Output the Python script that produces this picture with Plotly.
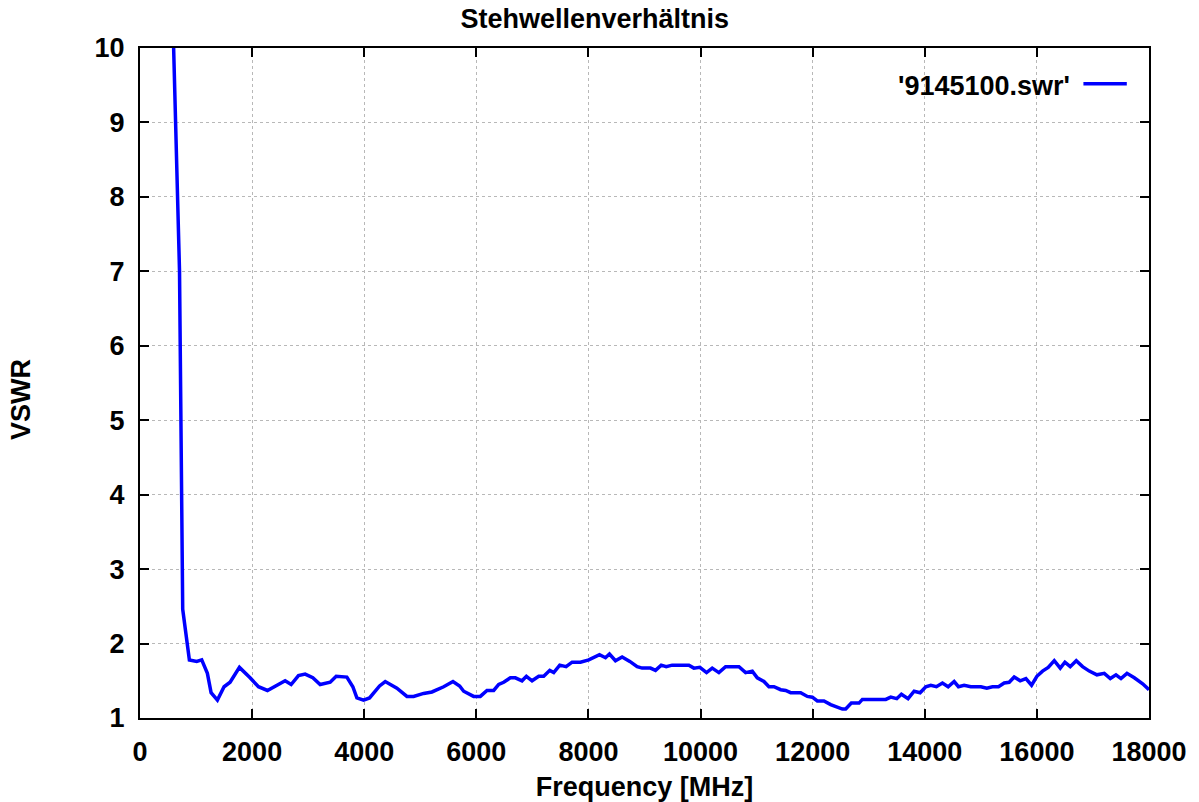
import plotly.graph_objects as go

freq_mhz = [
    600, 705, 762, 881, 1012, 1101, 1202, 1268, 1381, 1500, 1607, 1774, 1964,
    2113, 2274, 2411, 2589, 2696, 2827, 2946, 3083, 3214, 3393, 3500, 3690,
    3797, 3869, 3988, 4095, 4274, 4375, 4583, 4762, 4881, 5060, 5208, 5417,
    5583, 5702, 5774, 5952, 6071, 6190, 6310, 6399, 6488, 6607, 6696, 6815,
    6893, 6994, 7113, 7202, 7310, 7381, 7488, 7601, 7708, 7857, 8006, 8095,
    8197, 8304, 8375, 8482, 8601, 8738, 8869, 8958, 9107, 9196, 9298, 9387,
    9494, 9792, 9881, 9988, 10107, 10208, 10327, 10446, 10685, 10804, 10923,
    11012, 11131, 11220, 11310, 11429, 11518, 11607, 11786, 11905, 11994,
    12083, 12202, 12321, 12440, 12530, 12589, 12690, 12827, 12887, 13304,
    13393, 13500, 13583, 13702, 13810, 13917, 14018, 14107, 14208, 14315,
    14417, 14524, 14601, 14702, 14821, 15000, 15107, 15208, 15315, 15417,
    15506, 15595, 15702, 15804, 15905, 16000, 16101, 16202, 16310, 16417,
    16500, 16595, 16702, 16815, 16935, 17071, 17202, 17310, 17411, 17500,
    17607, 17738, 17887, 18000,
]
vswr = [
    10.0, 7.0, 2.46, 1.78, 1.76, 1.78, 1.60, 1.34, 1.24, 1.42, 1.48, 1.68, 1.54,
    1.42, 1.37, 1.43, 1.50, 1.45, 1.57, 1.59, 1.54, 1.45, 1.48, 1.56, 1.55,
    1.42, 1.27, 1.24, 1.27, 1.43, 1.49, 1.40, 1.29, 1.29, 1.33, 1.35, 1.42,
    1.49, 1.43, 1.36, 1.29, 1.29, 1.37, 1.37, 1.45, 1.48, 1.54, 1.54, 1.50,
    1.56, 1.50, 1.56, 1.56, 1.64, 1.61, 1.71, 1.69, 1.75, 1.75, 1.78, 1.81,
    1.85, 1.81, 1.86, 1.77, 1.82, 1.76, 1.69, 1.67, 1.67, 1.64, 1.71, 1.69,
    1.71, 1.71, 1.67, 1.68, 1.61, 1.67, 1.61, 1.69, 1.69, 1.61, 1.63,
    1.54, 1.49, 1.42, 1.42, 1.38, 1.37, 1.34, 1.34, 1.29, 1.28,
    1.23, 1.23, 1.18, 1.15, 1.12, 1.12, 1.20, 1.20, 1.25, 1.25,
    1.28, 1.26, 1.32, 1.26, 1.36, 1.34, 1.42, 1.44, 1.42, 1.47,
    1.42, 1.49, 1.42, 1.44, 1.42, 1.42, 1.40, 1.42, 1.42, 1.47,
    1.48, 1.55, 1.50, 1.53, 1.44, 1.56, 1.63, 1.68, 1.77, 1.67,
    1.75, 1.69, 1.77, 1.69, 1.63, 1.58, 1.60, 1.53, 1.58, 1.53,
    1.60, 1.54, 1.46, 1.38,
]
trace_name = "'9145100.swr'"

FONT = "Liberation Sans, Arial, sans-serif"
FS = 27

def bold_font(size=FS):
    return dict(family=FONT, size=size, color='black', weight='bold')

fig = go.Figure()
fig.add_trace(go.Scatter(x=freq_mhz, y=vswr, mode='lines', name=trace_name,
                         line=dict(color='#0000ff', width=3.5), showlegend=False))

axis_style = dict(
    showline=True, linecolor='black', linewidth=2, mirror='ticks',
    ticks='inside', ticklen=9, tickwidth=2, tickcolor='black',
    showgrid=True, gridcolor='#b8b8b8', griddash='dot', gridwidth=1,
    zeroline=False, tickfont=bold_font(), automargin=False,
)
fig.update_xaxes(range=[0, 18000], dtick=2000, tickformat='d', ticklabelstandoff=9,
                 title=dict(text='Frequency [MHz]', standoff=18, font=bold_font()),
                 **axis_style)
fig.update_yaxes(range=[1, 10], dtick=1, ticklabelstandoff=8, **axis_style)

# Legende im gnuplot-Stil: Text links, Linie rechts
fig.add_annotation(text=trace_name, xref='paper', yref='paper', x=0.924, y=0.944,
                   xanchor='right', yanchor='middle', showarrow=False, font=bold_font())
fig.add_shape(type='line', xref='paper', yref='paper', x0=0.935, x1=0.978, y0=0.9466, y1=0.9466,
              line=dict(color='#0000ff', width=3.5))

fig.add_annotation(text='VSWR', xref='paper', yref='paper', x=0, xshift=-119, y=0.4746,
                   textangle=-90, xanchor='center', yanchor='middle', showarrow=False,
                   font=bold_font())

fig.update_layout(
    width=1199, height=802,
    margin=dict(l=140, r=50, t=48, b=84),
    plot_bgcolor='white', paper_bgcolor='white',
    title=dict(text='Stehwellenverhältnis', x=0.496, xanchor='center', y=0.977, yanchor='middle',
               font=bold_font()),
)

# Seitenrand entfernen, damit die Figur bei 0,0 beginnt
fig.write_html("out.html", config={'displayModeBar': False},
               post_script="document.body.style.margin='0';")
